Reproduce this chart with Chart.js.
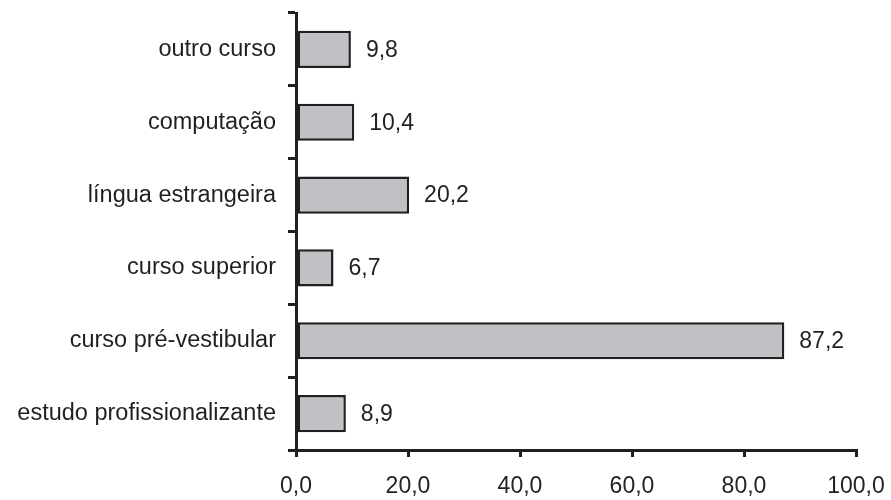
<!DOCTYPE html>
<html>
<head>
<meta charset="utf-8">
<script src="https://cdn.jsdelivr.net/npm/chart.js@4/dist/chart.umd.min.js"></script>
<style>
  html, body { margin: 0; padding: 0; background: #fff; }
  #wrap { width: 891px; height: 500px; }
</style>
</head>
<body>
<div id="wrap"><canvas id="chart"></canvas></div>
<script>
// Dados do gráfico
const categorias = ['outro curso', 'computação', 'língua estrangeira', 'curso superior', 'curso pré-vestibular', 'estudo profissionalizante'];
const valores = [9.8, 10.4, 20.2, 6.7, 87.2, 8.9];
const escalaMin = 0;
const escalaMax = 100;
const escalaPasso = 20;

const tinta = '#231f20';
const fmt = v => v.toFixed(1).replace('.', ',');

// rótulos de valor à direita das barras
const rotulosValor = {
    id: 'rotulosValor',
    afterDatasetsDraw(chart) {
        const ctx = chart.ctx;
        const meta = chart.getDatasetMeta(0);
        ctx.save();
        ctx.font = '23px "Liberation Sans", Arial, sans-serif';
        ctx.fillStyle = tinta;
        ctx.textAlign = 'left';
        ctx.textBaseline = 'middle';
        meta.data.forEach((bar, i) => {
            ctx.fillText(fmt(valores[i]), bar.x + 15, bar.y + 1);
        });
        ctx.restore();
    }
};

new Chart(document.getElementById('chart').getContext('2d'), {
    type: 'bar',
    data: {
        labels: categorias,
        datasets: [{
            data: valores,
            backgroundColor: '#c0c1c5',
            borderColor: tinta,
            borderWidth: 2.5,
            borderSkipped: false,
            barPercentage: 0.51,
            categoryPercentage: 1
        }]
    },
    options: {
        indexAxis: 'y',
        responsive: true,
        maintainAspectRatio: false,
        animation: false,
        layout: { padding: { top: 13, right: 35, left: 0, bottom: 0 } },
        plugins: { legend: { display: false }, tooltip: { enabled: false } },
        scales: {
            x: {
                min: escalaMin,
                max: escalaMax,
                ticks: {
                    stepSize: escalaPasso,
                    color: tinta,
                    font: { family: '"Liberation Sans", Arial, sans-serif', size: 23 },
                    padding: 16,
                    maxRotation: 0,
                    callback: v => fmt(v)
                },
                grid: { drawOnChartArea: false, drawTicks: true, tickLength: 7, color: tinta, lineWidth: 3 },
                border: { display: true, color: tinta, width: 3 },
                afterFit: s => { s.height = 50; s.paddingLeft = 0; s.paddingRight = 0; }
            },
            y: {
                ticks: {
                    color: tinta,
                    font: { family: '"Liberation Sans", Arial, sans-serif', size: 23.5 },
                    padding: 12
                },
                grid: { offset: true, drawOnChartArea: false, drawTicks: true, tickLength: 8, color: tinta, lineWidth: 3 },
                border: { display: true, color: tinta, width: 3 },
                afterFit: s => { s.width = 296; s.paddingTop = 0; s.paddingBottom = 0; }
            }
        }
    },
    plugins: [rotulosValor]
});
</script>
</body>
</html>
